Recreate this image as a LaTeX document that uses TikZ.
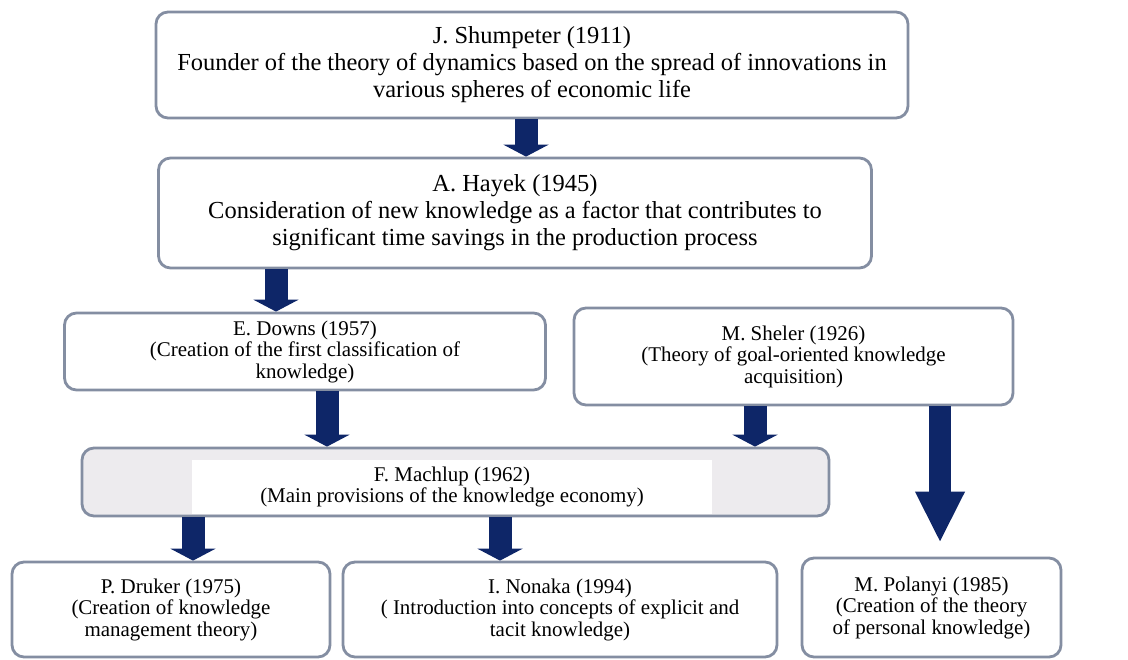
\documentclass[tikz,border=0pt]{standalone}
\usepackage{fontspec}
\setmainfont{Liberation Serif}
\usepackage{xcolor}
\usetikzlibrary{arrows.meta}

\definecolor{navy}{RGB}{14,38,104}
\definecolor{frame}{RGB}{132,142,162}
\definecolor{shade}{RGB}{237,235,238}

\newlength\pxu
\setlength\pxu{0.025cm}

\tikzset{
  card/.style 2 args={draw=frame, line width=2pt, rounded corners=0.3cm, fill=white,
    minimum width=#1*\pxu, minimum height=#2*\pxu, align=center, inner sep=0pt},
  bigtext/.style={font=\fontsize{17.4}{19.2}\selectfont},
  smalltext/.style={font=\fontsize{14.9}{15.3}\selectfont},
  blk/.style={draw=navy, line width=0.575cm, -{Triangle[width=1.125cm, length=0.3cm]}},
  blklong/.style={draw=navy, line width=0.55cm, -{Triangle[width=1.15cm, length=1.275cm]}}
}

\begin{document}
\begin{tikzpicture}[x=0.025cm, y=-0.025cm]
\useasboundingbox (0,0) rectangle (1128,659);

% upper row
\node[card={752}{106}, bigtext] (shumpeter) at (532,65)
  {J. Shumpeter (1911)\\Founder of the theory of dynamics based on the spread of innovations in\\various spheres of economic life};
\node[card={713}{110}, bigtext] (hayek) at (515,213)
  {A. Hayek (1945)\\Consideration of new knowledge as a factor that contributes to\\significant time savings in the production process};

% middle row
\node[card={481}{77}, smalltext] (downs) at (305,351.5)
  {E. Downs (1957)\\(Creation of the first classification of\\knowledge)};
\node[card={439}{97}, smalltext] (sheler) at (793.5,356.5)
  {M. Sheler (1926)\\(Theory of goal-oriented knowledge\\acquisition)};
\node[card={747}{68}, fill=shade] (machlup) at (455.5,482) {};
\node[fill=white, minimum width=520*\pxu, minimum height=54*\pxu, align=center,
  inner sep=0pt, smalltext] (machluptext) at (452,487)
  {F. Machlup (1962)\\(Main provisions of the knowledge economy)};

% lower row
\node[card={318}{95}, smalltext] (druker) at (171,609.5)
  {P. Druker (1975)\\(Creation of knowledge\\management theory)};
\node[card={434}{95}, smalltext] (nonaka) at (560,609.5)
  {I. Nonaka (1994)\\( Introduction into concepts of explicit and\\tacit knowledge)};
\node[card={259}{99}, smalltext] (polanyi) at (931.5,607.5)
  {M. Polanyi (1985)\\(Creation of the theory\\of personal knowledge)};

% arrows
\foreach \col/\xx in {c1/526, c2/276, c3/327, c4/755, c5/940, c6/193, c7/500}
  \coordinate (\col) at (\xx,0);
\draw[blk] (shumpeter.south -| c1) -- (hayek.north -| c1);
\draw[blk] (hayek.south -| c2) -- (downs.north -| c2);
\draw[blk] (downs.south -| c3) -- (machlup.north -| c3);
\draw[blk] (sheler.south -| c4) -- (machlup.north -| c4);
\draw[blklong] (sheler.south -| c5) -- ([yshift=14*\pxu]polanyi.north -| c5);
\draw[blk] (machlup.south -| c6) -- (druker.north -| c6);
\draw[blk] (machlup.south -| c7) -- (nonaka.north -| c7);
\end{tikzpicture}
\end{document}
